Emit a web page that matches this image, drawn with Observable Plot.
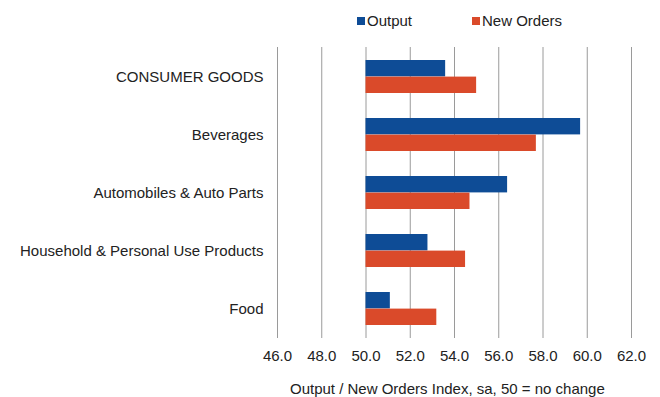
<!DOCTYPE html>
<html>
<head>
<meta charset="utf-8">
<script src="https://cdn.jsdelivr.net/npm/d3@7"></script>
<script src="https://cdn.jsdelivr.net/npm/@observablehq/plot@0.6"></script>
<style>
  html, body { margin: 0; padding: 0; background: #fff; }
  body { width: 660px; height: 397px; overflow: hidden; font-family: "Liberation Sans", Arial, sans-serif; color: #222; }
  #legend { height: 40px; position: relative; font-size: 15px; }
  .item { position: absolute; top: 12px; line-height: 18px; white-space: nowrap; }
  .sw { display: inline-block; width: 8px; height: 8px; margin-right: 2px; vertical-align: 1px; }
  #caption { height: 16px; line-height: 15px; font-size: 15px; padding-left: 290px; white-space: nowrap; }
</style>
</head>
<body>
<div id="legend"></div>
<div id="chart"></div>
<div id="caption"></div>
<script>
const categories = ["CONSUMER GOODS", "Beverages", "Automobiles & Auto Parts", "Household & Personal Use Products", "Food"];
const outputValues = [53.6, 59.7, 56.4, 52.8, 51.1];
const newOrdersValues = [55.0, 57.7, 54.7, 54.5, 53.2];
const seriesNames = ["Output", "New Orders"];
const seriesColors = ["#0E4C96", "#DA4A2A"];
const xTicks = [46, 48, 50, 52, 54, 56, 58, 60, 62];
const baseline = 50;
const axisTitle = "Output / New Orders Index, sa, 50 = no change";

const outputRows = categories.map((c, i) => ({category: c, series: seriesNames[0], value: outputValues[i]}));
const newOrderRows = categories.map((c, i) => ({category: c, series: seriesNames[1], value: newOrdersValues[i]}));

// legend
const legend = document.getElementById("legend");
const legendX = [357, 472];
seriesNames.forEach((name, i) => {
  const item = document.createElement("div");
  item.className = "item";
  item.style.left = legendX[i] + "px";
  item.innerHTML = `<span class="sw" style="background:${seriesColors[i]}"></span>${name}`;
  legend.appendChild(item);
});

const half = 16.6;
const chart = Plot.plot({
  width: 660,
  height: 341,
  marginLeft: 277,
  marginRight: 29,
  marginTop: 7,
  marginBottom: 43,
  style: {fontFamily: "'Liberation Sans', Arial, sans-serif", fontSize: "15px", color: "#222", background: "white"},
  x: {domain: [46, 62], ticks: xTicks, tickFormat: d => d.toFixed(1), tickSize: 0, tickPadding: 12, label: null},
  y: {domain: categories, paddingInner: 0.43, paddingOuter: 0.215, tickSize: 0, tickPadding: 14, label: null},
  marks: [
    Plot.ruleX(xTicks, {stroke: "#9a9a9a", strokeWidth: 1}),
    Plot.barX(outputRows, {x1: () => baseline, x2: "value", y: "category", fill: seriesColors[0], insetBottom: half}),
    Plot.barX(newOrderRows, {x1: () => baseline, x2: "value", y: "category", fill: seriesColors[1], insetTop: half})
  ]
});
chart.style.display = "block";
document.getElementById("chart").appendChild(chart);
document.getElementById("caption").textContent = axisTitle;
</script>
</body>
</html>
